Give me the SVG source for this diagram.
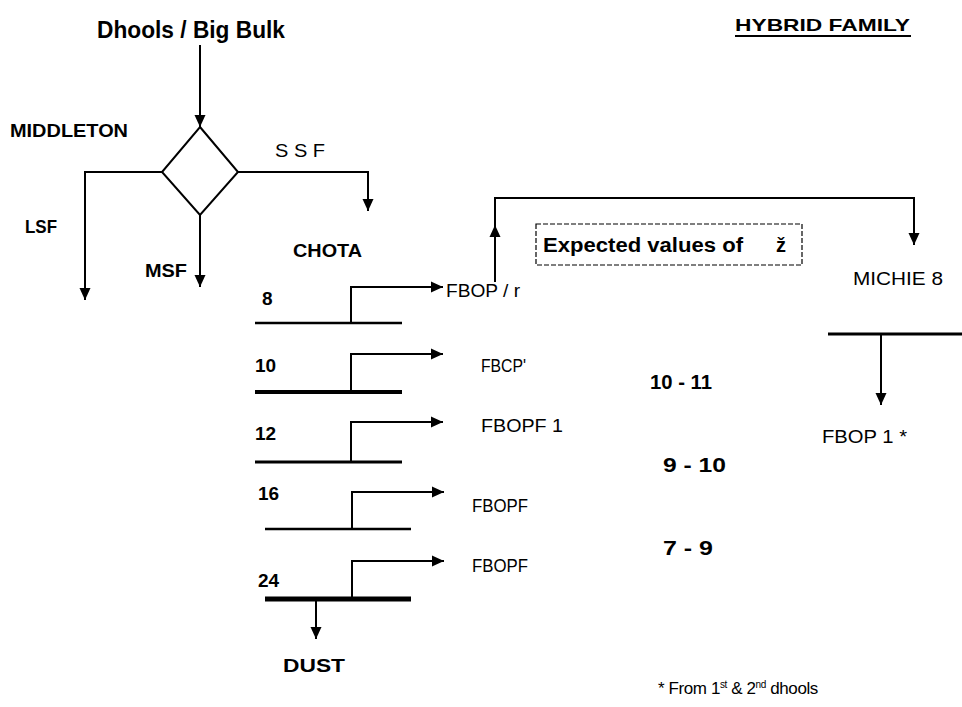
<svg xmlns="http://www.w3.org/2000/svg" width="962" height="707" viewBox="0 0 962 707">
<style>
.t{font-family:"Liberation Sans",Arial,sans-serif;fill:#000}
.b{font-weight:bold}
.ln{fill:none;stroke:#000;stroke-width:2}
</style>
<defs>
<marker id="ah" markerUnits="userSpaceOnUse" markerWidth="12" markerHeight="12" refX="12" refY="6" orient="auto"><path d="M0,0.5 L12,6 L0,11.5 z" fill="#000"/></marker>
</defs>
<rect width="962" height="707" fill="#fff"/>
<g id="connectors">
<path class="ln" d="M200,45 V127" marker-end="url(#ah)"/>
<path class="ln" d="M162,172 H85 V300" marker-end="url(#ah)"/>
<path class="ln" d="M200,215 V287" marker-end="url(#ah)"/>
<path class="ln" d="M238,172 H368 V211" marker-end="url(#ah)"/>
<path class="ln" d="M351,323 V287 H443" marker-end="url(#ah)"/>
<path class="ln" d="M351,392 V354 H443" marker-end="url(#ah)"/>
<path class="ln" d="M351,462 V422 H443" marker-end="url(#ah)"/>
<path class="ln" d="M352,529 V492 H444" marker-end="url(#ah)"/>
<path class="ln" d="M352,599 V561 H444" marker-end="url(#ah)"/>
<path class="ln" d="M316,599 V639" marker-end="url(#ah)"/>
<path class="ln" d="M495,282 V225" marker-end="url(#ah)"/>
<path class="ln" d="M495,226 V198 H914 V245" marker-end="url(#ah)"/>
<path class="ln" d="M881,334 V405" marker-end="url(#ah)"/>
</g>
<g id="title"><text class="t b" x="97" y="38" font-size="23" textLength="188" lengthAdjust="spacingAndGlyphs">Dhools / Big Bulk</text></g>
<g id="hybrid"><text class="t b" x="735" y="31" font-size="17" textLength="175" lengthAdjust="spacingAndGlyphs">HYBRID FAMILY</text><line x1="735" y1="36" x2="911" y2="36" stroke="#000" stroke-width="2"/></g>
<g id="diamond"><path d="M200,127 L238,172 L200,215 L162,172 z" fill="#fff" stroke="#000" stroke-width="2"/></g>
<g id="middleton"><text class="t b" x="10" y="137" font-size="19" textLength="118" lengthAdjust="spacingAndGlyphs">MIDDLETON</text></g>
<g id="lsf"><text class="t b" x="25" y="233" font-size="19" textLength="32" lengthAdjust="spacingAndGlyphs">LSF</text></g>
<g id="msf"><text class="t b" x="145" y="277" font-size="19" textLength="42" lengthAdjust="spacingAndGlyphs">MSF</text></g>
<g id="ssf"><text class="t" x="275" y="157" font-size="19" textLength="50" lengthAdjust="spacingAndGlyphs">S S F</text></g>
<g id="chota"><text class="t b" x="293" y="257" font-size="19" textLength="69" lengthAdjust="spacingAndGlyphs">CHOTA</text></g>
<g id="row8"><text class="t b" x="262" y="305" font-size="19">8</text><line x1="255" y1="323" x2="402" y2="323" stroke="#000" stroke-width="2.5"/><text class="t" x="446" y="297" font-size="18" textLength="74" lengthAdjust="spacingAndGlyphs">FBOP / r</text></g>
<g id="row10"><text class="t b" x="255" y="372" font-size="19">10</text><line x1="255" y1="392" x2="402" y2="392" stroke="#000" stroke-width="4"/><text class="t" x="481" y="372" font-size="18" textLength="45" lengthAdjust="spacingAndGlyphs">FBCP'</text></g>
<g id="row12"><text class="t b" x="255" y="440" font-size="19">12</text><line x1="255" y1="462" x2="402" y2="462" stroke="#000" stroke-width="3"/><text class="t" x="481" y="432" font-size="18" textLength="82" lengthAdjust="spacingAndGlyphs">FBOPF 1</text></g>
<g id="row16"><text class="t b" x="258" y="500" font-size="19">16</text><line x1="265" y1="529" x2="411" y2="529" stroke="#000" stroke-width="2.5"/><text class="t" x="472" y="512" font-size="18" textLength="56" lengthAdjust="spacingAndGlyphs">FBOPF</text></g>
<g id="row24"><text class="t b" x="258" y="587" font-size="19">24</text><line x1="265" y1="599" x2="411" y2="599" stroke="#000" stroke-width="5"/><text class="t" x="472" y="572" font-size="18" textLength="56" lengthAdjust="spacingAndGlyphs">FBOPF</text></g>
<g id="dust"><text class="t b" x="283" y="672" font-size="19" textLength="62" lengthAdjust="spacingAndGlyphs">DUST</text></g>
<g id="expected"><rect x="536" y="224" width="266" height="41" fill="none" stroke="#000" stroke-width="1.2" stroke-dasharray="5,2"/><text class="t b" x="543" y="252" font-size="20" textLength="200" lengthAdjust="spacingAndGlyphs">Expected values of</text><text class="t b" x="776" y="252" font-size="20">ž</text></g>
<g id="michie"><text class="t" x="853" y="285" font-size="19" textLength="90" lengthAdjust="spacingAndGlyphs">MICHIE 8</text><line x1="828" y1="334" x2="962" y2="334" stroke="#000" stroke-width="3"/></g>
<g id="fbop1"><text class="t" x="822" y="443" font-size="19" textLength="85" lengthAdjust="spacingAndGlyphs">FBOP 1 *</text></g>
<g id="values"><text class="t b" x="650" y="389" font-size="20" textLength="62" lengthAdjust="spacingAndGlyphs">10 - 11</text><text class="t b" x="663" y="472" font-size="20" textLength="63" lengthAdjust="spacingAndGlyphs">9 - 10</text><text class="t b" x="663" y="555" font-size="20" textLength="50" lengthAdjust="spacingAndGlyphs">7 - 9</text></g>
<g id="footnote"><text class="t" x="658" y="694" font-size="17" letter-spacing="-0.4">* From 1<tspan font-size="10" dy="-6">st</tspan><tspan dy="6"> &amp; 2</tspan><tspan font-size="10" dy="-6">nd</tspan><tspan dy="6"> dhools</tspan></text></g>
</svg>
